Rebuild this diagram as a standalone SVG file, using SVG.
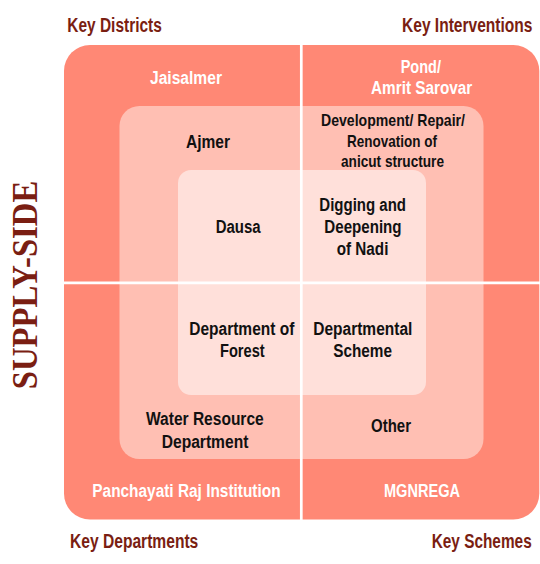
<svg xmlns="http://www.w3.org/2000/svg" width="540" height="564" viewBox="0 0 540 564">
<style>
.t{font-family:"Liberation Sans",Arial,sans-serif;font-weight:bold}
.h{fill:#7a1e12;font-size:20px}
.w{fill:#ffffff;font-size:18px}
.b{fill:#111111;font-size:18px}
.s{fill:#111111;font-size:17px}
</style>
<rect width="540" height="564" fill="#ffffff"/>
<g id="outer"><rect x="64" y="45" width="475.3" height="474.5" rx="26" fill="#ff8875"/></g>
<g id="middle"><rect x="119.5" y="106" width="364" height="353" rx="20" fill="#ffbfb3"/></g>
<g id="inner"><rect x="178" y="170" width="248" height="225" rx="13" fill="#ffe0da"/></g>
<g id="connectors" stroke="#ffffff" stroke-width="2.7">
<line x1="301.3" y1="45" x2="301.3" y2="520"/>
<line x1="64" y1="282.8" x2="540" y2="282.8"/>
</g>
<g id="labels">
<text class="t h" x="67.3" y="31.7" textLength="94.5" lengthAdjust="spacingAndGlyphs">Key Districts</text>
<text class="t h" transform="translate(402 31.7) scale(0.78 1)" x="0" y="0" textLength="167.3" lengthAdjust="spacingAndGlyphs">Key Interventions</text>
<text class="t h" x="70" y="547.5" textLength="128.3" lengthAdjust="spacingAndGlyphs">Key Departments</text>
<text class="t h" transform="translate(431.7 547.5) scale(0.78 1)" x="0" y="0" textLength="128.2" lengthAdjust="spacingAndGlyphs">Key Schemes</text>
<text transform="translate(37.3 389.3) rotate(-90)" x="0" y="0" textLength="208.6" lengthAdjust="spacingAndGlyphs" font-family="Liberation Serif,serif" font-weight="bold" font-size="36.5" fill="#7a1e12">SUPPLY-SIDE</text>
</g>
<g id="n-jaisalmer"><text class="t w" x="150" y="84" textLength="72" lengthAdjust="spacingAndGlyphs">Jaisalmer</text></g>
<g id="n-pond"><text class="t w" x="400.7" y="72.7" textLength="40.3" lengthAdjust="spacingAndGlyphs">Pond/</text><text class="t w" x="371" y="94" textLength="101.3" lengthAdjust="spacingAndGlyphs">Amrit Sarovar</text></g>
<g id="n-ajmer"><text class="t b" x="186" y="148.3" textLength="44" lengthAdjust="spacingAndGlyphs">Ajmer</text></g>
<g id="n-development"><text class="t s" x="321" y="125.8" textLength="144" lengthAdjust="spacingAndGlyphs">Development/ Repair/</text><text class="t s" x="347" y="146.6" textLength="90" lengthAdjust="spacingAndGlyphs">Renovation of</text><text class="t s" x="341" y="166.8" textLength="103" lengthAdjust="spacingAndGlyphs">anicut structure</text></g>
<g id="n-dausa"><text class="t b" x="215.7" y="232.7" textLength="45" lengthAdjust="spacingAndGlyphs">Dausa</text></g>
<g id="n-digging"><text class="t b" x="319.3" y="210.7" textLength="86.7" lengthAdjust="spacingAndGlyphs">Digging and</text><text class="t b" x="324.3" y="232.7" textLength="77.3" lengthAdjust="spacingAndGlyphs">Deepening</text><text class="t b" x="336.7" y="255" textLength="51.7" lengthAdjust="spacingAndGlyphs">of Nadi</text></g>
<g id="n-forest"><text class="t b" x="189.3" y="335" textLength="105" lengthAdjust="spacingAndGlyphs">Department of</text><text class="t b" x="220" y="356.7" textLength="44.7" lengthAdjust="spacingAndGlyphs">Forest</text></g>
<g id="n-scheme"><text class="t b" x="313.3" y="335" textLength="99" lengthAdjust="spacingAndGlyphs">Departmental</text><text class="t b" x="333.3" y="356.7" textLength="58.7" lengthAdjust="spacingAndGlyphs">Scheme</text></g>
<g id="n-water"><text class="t b" x="146" y="425" textLength="117.7" lengthAdjust="spacingAndGlyphs">Water Resource</text><text class="t b" x="161.7" y="447.7" textLength="86.7" lengthAdjust="spacingAndGlyphs">Department</text></g>
<g id="n-other"><text class="t b" x="371" y="432.3" textLength="40" lengthAdjust="spacingAndGlyphs">Other</text></g>
<g id="n-pri"><text class="t w" x="92.3" y="496.7" textLength="188.3" lengthAdjust="spacingAndGlyphs">Panchayati Raj Institution</text></g>
<g id="n-mgnrega"><text class="t w" x="384" y="496.7" textLength="76" lengthAdjust="spacingAndGlyphs">MGNREGA</text></g>
</svg>
